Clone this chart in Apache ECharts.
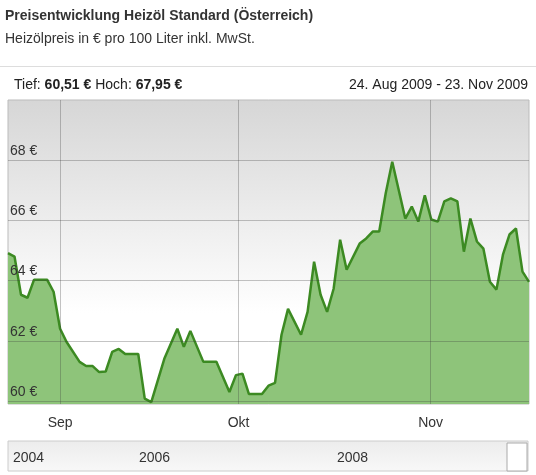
<!DOCTYPE html>
<html>
<head>
<meta charset="utf-8">
<script src="https://cdn.jsdelivr.net/npm/echarts@6/dist/echarts.min.js"></script>
<style>
  html, body { margin: 0; padding: 0; background: #fff; }
  #chart { width: 536px; height: 475px; }
</style>
</head>
<body>
<div id="chart"></div>
<script>
// trading-day index along the period 24 Aug 2009 - 23 Nov 2009
var tage = [0, 1, 2, 3, 4, 6, 7, 8, 9, 11, 12, 13, 14, 15, 16, 17, 18, 20, 21, 22,
    24, 26, 27, 28, 30, 32, 34, 35, 36, 37, 39, 40, 41, 42, 43, 45, 46, 47, 48, 49,
    50, 51, 52, 54, 55, 56, 57, 58, 59, 61, 62, 63, 64, 65, 66, 67, 68, 69, 70, 71,
    72, 73, 74, 75, 76, 77, 78, 79, 80];
var preise = [64.91, 64.80, 63.53, 63.43, 64.03, 64.03, 63.63, 62.40, 61.96, 61.30,
    61.16, 61.16, 60.96, 60.98, 61.63, 61.73, 61.56, 61.56, 60.08, 59.96,
    61.40, 62.40, 61.80, 62.33, 61.30, 61.30, 60.30, 60.86, 60.91, 60.23,
    60.23, 60.51, 60.60, 62.20, 63.06, 62.20, 62.96, 64.63, 63.53, 62.96,
    63.73, 65.36, 64.36, 65.23, 65.40, 65.63, 65.63, 66.90, 67.95, 66.06,
    66.46, 65.96, 66.83, 66.03, 65.96, 66.63, 66.73, 66.63, 64.96, 66.06,
    65.30, 65.06, 63.96, 63.70, 64.86, 65.53, 65.73, 64.30, 63.96];
var monate = ['Sep', 'Okt', 'Nov'];
var monatsStart = [8.0, 35.4, 64.9];
var yTicks = [60, 62, 64, 66, 68];
var jahre = ['2004', '2006', '2008'];

var chartDom = document.getElementById('chart');
var chart = echarts.init(chartDom);
var font = 'Arial, "Liberation Sans", sans-serif';

var option = {
    animation: false,
    grid: { left: 8, right: 7, top: 100, bottom: 71 },
    xAxis: {
        type: 'value',
        min: 0,
        max: 80,
        axisLine: { show: false },
        axisTick: { show: false },
        axisLabel: { show: false },
        splitLine: { show: false }
    },
    yAxis: {
        type: 'value',
        min: 59.9,
        max: 70,
        axisLine: { show: false },
        axisTick: { show: false },
        axisLabel: { show: false },
        splitLine: { show: false }
    },
    graphic: [
        { type: 'text', left: 5, top: 9, style: { text: 'Preisentwicklung Heizöl Standard (Österreich)', font: 'bold 14px ' + font, fill: '#333' } },
        { type: 'text', left: 5, top: 32, style: { text: 'Heizölpreis in € pro 100 Liter inkl. MwSt.', font: '14px ' + font, fill: '#333' } },
        { type: 'rect', shape: { x: 0, y: 66, width: 536, height: 1 }, style: { fill: '#ddd' } },
        { type: 'text', left: 14, top: 78, style: { rich: { n: { font: '14px ' + font, fill: '#222' }, b: { font: 'bold 14px ' + font, fill: '#222' } }, text: '{n|Tief: }{b|60,51 €}{n| Hoch: }{b|67,95 €}' } },
        { type: 'text', right: 8, top: 78, style: { text: '24. Aug 2009 - 23. Nov 2009', font: '14px ' + font, fill: '#222' } },
        {
            type: 'rect', z: -10, shape: { x: 8, y: 100, width: 521, height: 304 },
            style: { fill: new echarts.graphic.LinearGradient(0, 0, 0, 1, [{ offset: 0, color: '#d6d6d6' }, { offset: 0.7, color: '#ffffff' }]), stroke: '#bbb' }
        },
        {
            type: 'rect', z: -10, shape: { x: 8, y: 441, width: 520, height: 30 },
            style: { fill: new echarts.graphic.LinearGradient(0, 0, 0, 1, [{ offset: 0, color: '#ececec' }, { offset: 1, color: '#f8f8f8' }]), stroke: '#ccc' }
        },
        { type: 'rect', shape: { x: 507, y: 443, width: 20, height: 28 }, style: { fill: '#fff', stroke: '#aaa' } },
        { type: 'text', left: 13, top: 451, style: { text: jahre[0], font: '14px ' + font, fill: '#333' } },
        { type: 'text', left: 139, top: 451, style: { text: jahre[1], font: '14px ' + font, fill: '#333' } },
        { type: 'text', left: 337, top: 451, style: { text: jahre[2], font: '14px ' + font, fill: '#333' } }
    ],
    series: [
        {
            type: 'line',
            z: 2,
            data: tage.map(function (t, i) { return [t, preise[i]]; }),
            symbol: 'none',
            lineStyle: { color: '#3c8a22', width: 2.5 },
            areaStyle: { color: '#8ec47a', opacity: 1, origin: 'start' }
        },
        {
            // gridlines and labels drawn over the area
            type: 'line',
            z: 5,
            data: [],
            markLine: {
                silent: true,
                symbol: 'none',
                lineStyle: { color: 'rgba(60,60,60,0.3)', width: 1, type: 'solid' },
                data: yTicks.map(function (v) {
                    return {
                        yAxis: v,
                        label: { show: true, position: 'insideStartTop', formatter: v + ' €', color: '#333', fontSize: 14, fontFamily: font, distance: [2, 2] }
                    };
                }).concat(monatsStart.map(function (v, i) {
                    return {
                        xAxis: v,
                        label: { show: true, position: 'start', formatter: monate[i], color: '#333', fontSize: 14, fontFamily: font, distance: 12 }
                    };
                }))
            }
        }
    ]
};
chart.setOption(option);
</script>
</body>
</html>
